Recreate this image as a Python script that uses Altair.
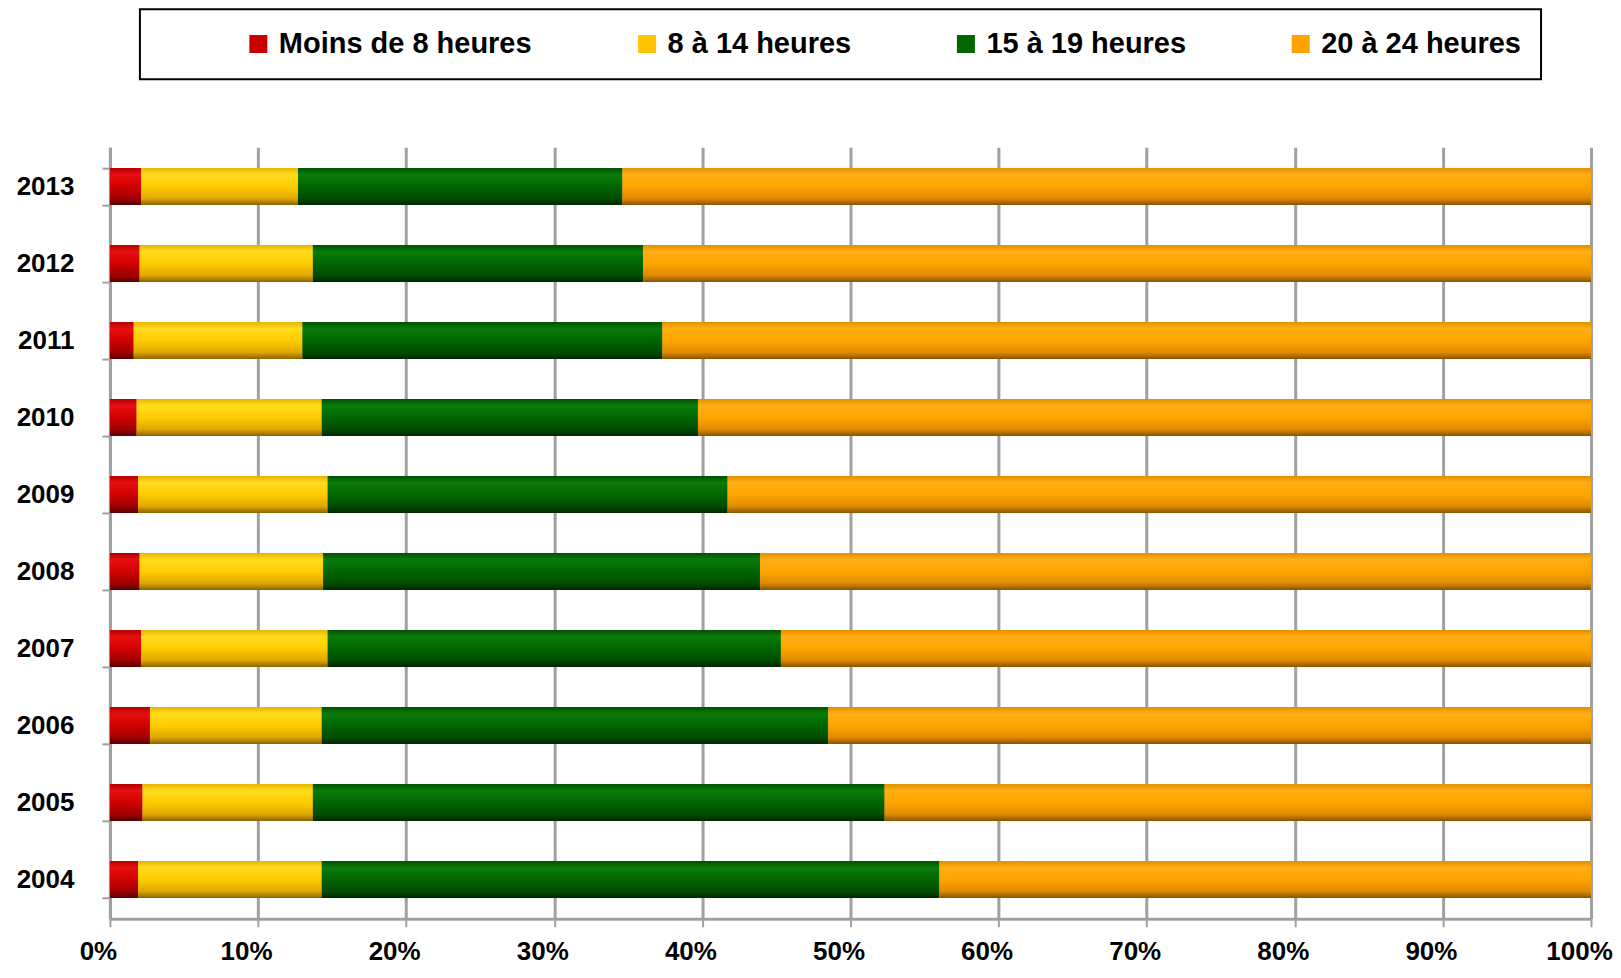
import altair as alt
import pandas as pd

years = ["2004", "2005", "2006", "2007", "2008", "2009", "2010", "2011", "2012", "2013"]
categories = ["Moins de 8 heures", "8 à 14 heures", "15 à 19 heures", "20 à 24 heures"]

moins_8 = [1.9, 2.2, 2.7, 2.1, 2.0, 1.9, 1.8, 1.6, 2.0, 2.1]
h_8_14 = [12.4, 11.5, 11.6, 12.6, 12.4, 12.8, 12.5, 11.4, 11.7, 10.6]
h_15_19 = [41.7, 38.6, 34.2, 30.6, 29.5, 27.0, 25.4, 24.3, 22.3, 21.9]
h_20_24 = [44.0, 47.7, 51.5, 54.7, 56.1, 58.3, 60.3, 62.7, 64.0, 65.4]

flat_colors = ["#c80000", "#ffc400", "#006600", "#ffa200"]
gradients = [
    ["#b00000", "#e81010", "#d00000", "#a00000", "#5a0000"],
    ["#e6b400", "#ffdc1e", "#ffcc00", "#e0a800", "#8a6400"],
    ["#005000", "#0a7c0a", "#006600", "#004c00", "#002800"],
    ["#e09000", "#ffae14", "#ffa500", "#e08a00", "#8a5400"],
]
stop_offsets = [0.0, 0.18, 0.5, 0.82, 1.0]

series = [moins_8, h_8_14, h_15_19, h_20_24]
rows = []
for i, yr in enumerate(years):
    for k, cat in enumerate(categories):
        rows.append({"year": yr, "cat": cat, "ord": k, "value": series[k][i]})
df = pd.DataFrame(rows)

FONT = "Liberation Sans"

base = alt.Chart(df).transform_stack(
    stack="value",
    groupby=["year"],
    as_=["x0", "x1"],
    sort=[alt.SortField("ord", order="ascending")],
)

x_enc = alt.X(
    "x0:Q",
    title=None,
    scale=alt.Scale(domain=[0, 100], nice=False, zero=True),
    axis=alt.Axis(
        values=list(range(0, 101, 10)),
        labelExpr="datum.value + '%'",
        labelFont=FONT,
        labelFontSize=26,
        labelFontWeight="bold",
        labelColor="black",
        labelFlush=False,
        labelOffset=-12,
        labelPadding=12,
        grid=True,
        gridColor="#a0a0a0",
        gridWidth=3,
        domainColor="#a0a0a0",
        domainWidth=3,
        tickColor="#a0a0a0",
        tickWidth=2,
        tickSize=8,
    ),
)
x2_enc = alt.X2("x1:Q")
y_enc = alt.Y(
    "year:N",
    title=None,
    sort=years[::-1],
    scale=alt.Scale(paddingInner=0.52, paddingOuter=0.27),
    axis=alt.Axis(
        labelFont=FONT,
        labelFontSize=26,
        labelFontWeight="bold",
        labelColor="black",
        labelPadding=28,
        tickBand="extent",
        tickColor="#a0a0a0",
        tickWidth=2,
        tickSize=8,
        domainColor="#a0a0a0",
        domainWidth=3,
        grid=False,
    ),
)

legend_layer = base.mark_bar().encode(
    x=x_enc,
    x2=x2_enc,
    y=y_enc,
    color=alt.Color(
        "cat:N",
        scale=alt.Scale(domain=categories, range=flat_colors),
        legend=alt.Legend(
            title=None,
            orient="none",
            legendX=30,
            legendY=-138,
            direction="horizontal",
            columns=4,
            symbolType="square",
            symbolSize=324,
            symbolStrokeWidth=0,
            symbolOffset=84,
            labelFont=FONT,
            labelFontSize=29,
            labelFontWeight="bold",
            labelColor="black",
            labelOffset=6,
            labelLimit=400,
            columnPadding=16,
            padding=20,
            strokeColor="black",
        ),
    ),
    order=alt.Order("ord:Q"),
)

layers = [legend_layer]
for cat, cols in zip(categories, gradients):
    grad = alt.Gradient(
        gradient="linear",
        stops=[alt.GradientStop(offset=o, color=c) for o, c in zip(stop_offsets, cols)],
        x1=0, x2=0, y1=0, y2=1,
    )
    layers.append(
        base.transform_filter(alt.datum.cat == cat)
        .mark_bar(fill=grad)
        .encode(x=x_enc, x2=x2_enc, y=y_enc)
    )

chart = (
    alt.layer(*layers)
    .properties(
        width=1482,
        height=772,
        padding={"left": 8, "top": 0, "right": 0, "bottom": 0},
        background="white",
    )
    .configure_view(strokeWidth=0)
    .configure_legend(strokeWidth=2)
)

chart.save("out.html", embed_options={"renderer": "svg", "actions": False})
